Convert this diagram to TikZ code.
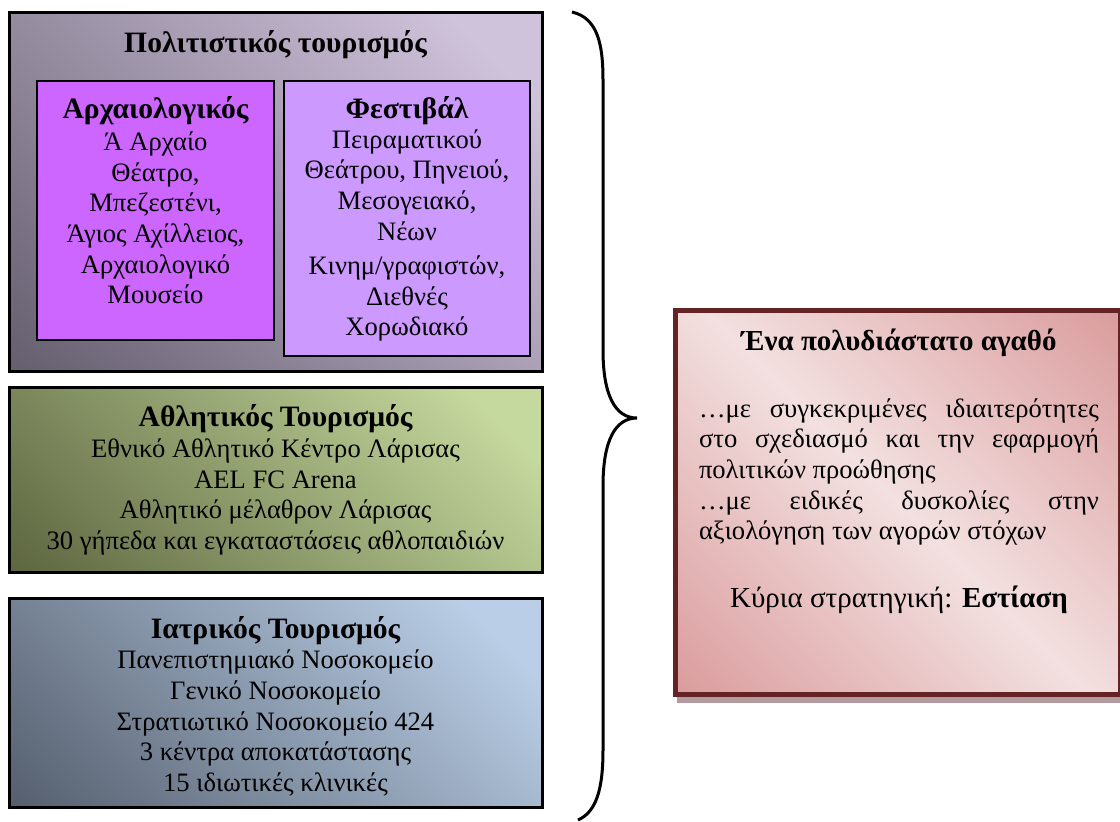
\documentclass[tikz,border=0pt]{standalone}
\usepackage{fontspec}
\setmainfont{Liberation Serif}
\setlength{\parindent}{0pt}
\definecolor{cultlight}{HTML}{CFC2DB}
\definecolor{cultdark}{HTML}{575160}
\definecolor{archfill}{HTML}{CC66FF}
\definecolor{festfill}{HTML}{CC99FF}
\definecolor{sportlight}{HTML}{C5D89D}
\definecolor{sportdark}{HTML}{4E5633}
\definecolor{medlight}{HTML}{BACFE7}
\definecolor{meddark}{HTML}{474F5D}
\definecolor{goodlight}{HTML}{F3E0E0}
\definecolor{gooddark}{HTML}{D68F90}
\definecolor{goodline}{HTML}{642426}
\definecolor{goodshadow}{HTML}{B49A9D}
\colorlet{shdlow}{black}
\colorlet{shdhigh}{white}
\colorlet{shdmid}{gray}
% Verläufe über die ganze Diagonale
\pgfdeclareverticalshading[shdlow,shdhigh]{diagfade}{100bp}{color(0bp)=(shdlow); color(6bp)=(shdlow); color(78bp)=(shdhigh); color(100bp)=(shdhigh)}
\pgfdeclareverticalshading[shdlow,shdmid]{diagband}{100bp}{color(0bp)=(shdlow); color(8bp)=(shdlow); color(50bp)=(shdmid); color(92bp)=(shdlow); color(100bp)=(shdlow)}
\begin{document}
\begin{tikzpicture}[
    x=0.5pt, y=-0.5pt,
    frame/.style   = {draw=black, line width=1.5pt},
    inframe/.style = {draw=black, line width=1pt},
    diag/.style 2 args = {/utils/exec={\colorlet{shdlow}{#1}\colorlet{shdhigh}{#2}},
                          shading=diagfade, shading angle=-45},
    head/.style    = {font=\fontsize{14.8}{16}\selectfont\bfseries, inner sep=0pt},
    body/.style    = {font=\fontsize{13.3}{15.3}\selectfont, align=center, inner sep=0pt},
  ]
  \useasboundingbox (0,0) rectangle (1120,821);

  % Ecken der Kästen
  \coordinate (K1) at (9,12);     % Kultur
  \coordinate (K2) at (542,371);
  \coordinate (A1) at (37,81);    % Archäologie
  \coordinate (A2) at (274,340);
  \coordinate (F1) at (284,81);   % Festival
  \coordinate (F2) at (530,356);
  \coordinate (S1) at (9,387);    % Sport
  \coordinate (S2) at (542,572);
  \coordinate (M1) at (9,598);    % Medizin
  \coordinate (M2) at (542,807);
  \coordinate (G1) at (675.5,310.5); % Gut
  \coordinate (G2) at (1120,694.5);

  % Kästen
  \shadedraw[frame, diag={cultdark}{cultlight}] (K1) rectangle (K2);
  \filldraw[inframe, fill=archfill] (A1) rectangle (A2);
  \filldraw[inframe, fill=festfill] (F1) rectangle (F2);
  \shadedraw[frame, diag={sportdark}{sportlight}] (S1) rectangle (S2);
  \shadedraw[frame, diag={meddark}{medlight}] (M1) rectangle (M2);
  \fill[goodshadow] (677,316) rectangle (1124,703);
  \shadedraw[draw=goodline, line width=2.5pt,
    /utils/exec={\colorlet{shdlow}{gooddark}\colorlet{shdmid}{goodlight}},
    shading=diagband, shading angle=-45] (G1) rectangle (G2);

  % Texte
  \node[head] (cult) at (275.5,45) {Πολιτιστικός τουρισμός};
  \node[head] (arch) at (155.5,111) {Αρχαιολογικός};
  \node[body] (archtxt) at (155.5,218) {Ά Αρχαίο\\Θέατρο,\\Μπεζεστένι,\\Άγιος Αχίλλειος,\\Αρχαιολογικό\\Μουσείο};
  \node[head] (fest) at (407,111) {Φεστιβάλ};
  \node[body] (festtxt) at (407,235.5) {Πειραματικού\\Θεάτρου, Πηνειού,\\Μεσογειακό,\\Νέων\\[2pt]Κινημ/γραφιστών,\\Διεθνές\\Χορωδιακό};
  \node[head] (sport) at (275.5,419) {Αθλητικός Τουρισμός};
  \node[body] (sporttxt) at (275.5,497) {Εθνικό Αθλητικό Κέντρο Λάρισας\\AEL FC Arena\\Αθλητικό μέλαθρον Λάρισας\\30 γήπεδα και εγκαταστάσεις αθλοπαιδιών};
  \node[head] (med) at (275.5,631) {Ιατρικός Τουρισμός};
  \node[body] (medtxt) at (275.5,723) {Πανεπιστημιακό Νοσοκομείο\\Γενικό Νοσοκομείο\\Στρατιωτικό Νοσοκομείο 424\\3 κέντρα αποκατάστασης\\15 ιδιωτικές κλινικές};
  \node[head, font=\fontsize{14.5}{16}\selectfont\bfseries] (good) at (899,343) {Ένα πολυδιάστατο αγαθό};
  \node[body, text width=200pt, align=justify] (goodtxt) at (899,472) {…με συγκεκριμένες ιδιαιτερότητες\linebreak στο σχεδιασμό και την εφαρμογή\linebreak πολιτικών προώθησης\\…με ειδικές δυσκολίες στην\linebreak αξιολόγηση των αγορών στόχων};
  \node[body, font=\fontsize{14.5}{16}\selectfont] (focus) at (899,600) {Κύρια στρατηγική: \textbf{Εστίαση}};

  % Klammer
  \coordinate (B1) at (572,12);
  \coordinate (B2) at (637,418);
  \coordinate (B3) at (578,820);
  \draw[line width=1.5pt] (B1) .. controls (598,18) and (603,45) .. (603,80) -- (603,350)
    .. controls (603,395) and (615,418) .. (B2)
    .. controls (615,418) and (603,441) .. (603,486) -- (603,750)
    .. controls (603,790) and (596,812) .. (B3);
\end{tikzpicture}
\end{document}
